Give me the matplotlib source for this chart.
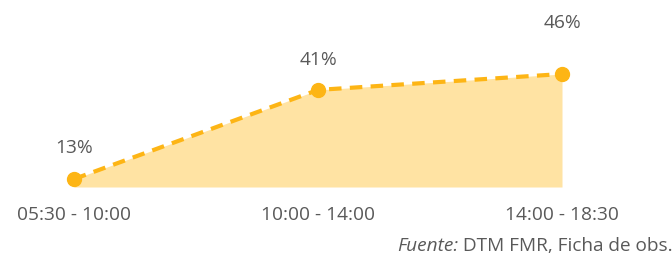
import matplotlib
matplotlib.use("Agg")
import matplotlib.pyplot as plt

periods = ["05:30 - 10:00", "10:00 - 14:00", "14:00 - 18:30"]
shares = [13, 41, 46]
labels = ["13%", "41%", "46%"]

LINE = "#FDB515"
FILL = "#FFE3A3"
TEXT = "#595959"
FS = 13.8

plt.rcParams["font.family"] = ["Open Sans", "DejaVu Sans"]

W, H = 672, 257
fig = plt.figure(figsize=(W / 100, H / 100), dpi=100)
# axes spans the first to last point horizontally, fill base to top point vertically
ax = fig.add_axes([74 / W, 1 - 187 / H, (562 - 74) / W, (187 - 74) / H])
x = list(range(len(shares)))
ymin = 10.5
ax.set_xlim(0, len(shares) - 1)
ax.set_ylim(ymin, max(shares))

ax.fill_between(x, shares, ymin, color=FILL, lw=0)
ax.plot(x, shares, color=LINE, lw=3, ls=(0, (3, 2)), marker="o", ms=10,
        mfc=LINE, mec=LINE, clip_on=False, zorder=3)

label_lift = [22.5, 21.5, 37]  # points above marker
for xi, v, lab, dy in zip(x, shares, labels, label_lift):
    ax.annotate(lab, (xi, v), xytext=(0, dy), textcoords="offset points",
                ha="center", va="center", fontsize=FS, color=TEXT)

ax.set_xticks(x)
ax.set_xticklabels(periods, fontsize=FS, color=TEXT)
ax.tick_params(axis="x", length=0, pad=14)
ax.set_yticks([])
for s in ax.spines.values():
    s.set_visible(False)

src_fs = FS * 0.99
t1 = fig.text(0, 0, "Fuente:", fontsize=src_fs, color=TEXT, style="italic",
              va="center")
t2 = fig.text(0, 0, " DTM FMR, Ficha de obs.", fontsize=src_fs, color=TEXT,
              va="center")
fig.canvas.draw()
r = fig.canvas.get_renderer()
w1 = t1.get_window_extent(r).width
w2 = t2.get_window_extent(r).width
right = 673
t2.set_position(((right - w2) / W, 1 - 246 / H))
t1.set_position(((right - w2 - w1) / W, 1 - 246 / H))

fig.savefig("out.png", dpi=100)
